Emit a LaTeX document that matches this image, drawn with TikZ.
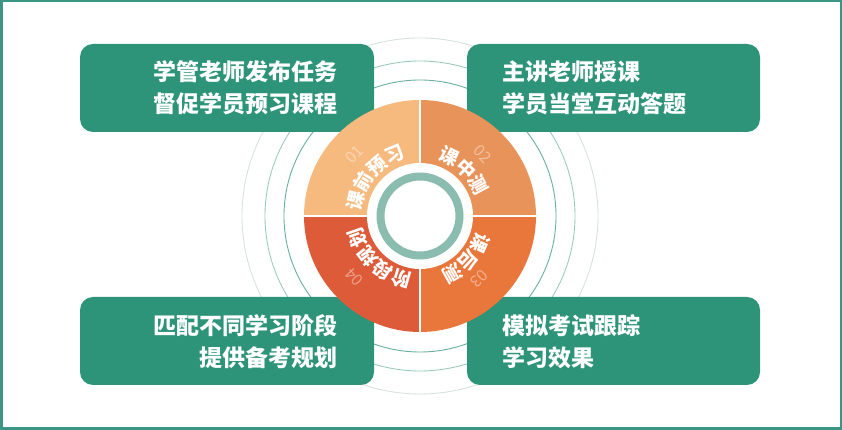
\documentclass[tikz,border=0pt]{standalone}
\usepackage{fontspec}
\setmainfont{Noto Sans CJK SC}
\definecolor{frameC}{HTML}{3A9585}
\definecolor{boxC}{HTML}{2E9479}
\definecolor{qA}{HTML}{F6B97E}
\definecolor{qB}{HTML}{E8935A}
\definecolor{qC}{HTML}{E9773C}
\definecolor{qD}{HTML}{DD5B38}
\definecolor{ringC}{HTML}{8BBCB0}
\definecolor{circA}{HTML}{6AAEA0}
\definecolor{circB}{HTML}{9CCAC0}
\definecolor{circC}{HTML}{D5E3DF}
\tikzset{
  boxtext/.style={text=white,font=\fontsize{23}{32}\selectfont\bfseries,inner sep=0pt},
  qtext/.style={text=white,font=\fontsize{19}{19}\selectfont\bfseries,inner sep=0pt},
  numtext/.style={text=white,opacity=0.4,font=\fontsize{16}{16}\selectfont,inner sep=0pt},
  thinline/.style={line width=0.9pt}
}
\begin{document}
\begin{tikzpicture}[x=1pt,y=1pt]
\useasboundingbox (0,0) rectangle (842,430);
\coordinate (O) at (420,214);
% concentric circles
\draw[thinline,circC] (O) circle (178);
\draw[thinline,circB] (O) circle (155);
\draw[thinline,circA] (O) circle (136);
% boxes
\fill[boxC] (374,298) [rounded corners=13pt] -- (80,298) -- (80,386) -- (374,386) [sharp corners] -- cycle;
\fill[boxC] (467,298) [rounded corners=13pt] -- (760,298) -- (760,386) -- (467,386) [sharp corners] -- cycle;
\fill[boxC] (374,133) [rounded corners=13pt] -- (80,133) -- (80,45) -- (374,45) [sharp corners] -- cycle;
\fill[boxC] (467,133) [rounded corners=13pt] -- (760,133) -- (760,45) -- (467,45) [sharp corners] -- cycle;
% box texts
\node[boxtext,anchor=east,align=right] (t1) at (338,342) {学管老师发布任务\\督促学员预习课程};
\node[boxtext,anchor=west,align=left] (t2) at (502,342) {主讲老师授课\\学员当堂互动答题};
\node[boxtext,anchor=east,align=right] (t4) at (338,88) {匹配不同学习阶段\\提供备考规划};
\node[boxtext,anchor=west,align=left] (t3) at (502,88) {模拟考试跟踪\\学习效果};
% quadrants
\fill[qA] (O) -- ++(180:116) arc (180:90:116) -- cycle;
\fill[qB] (O) -- ++(90:116) arc (90:0:116) -- cycle;
\fill[qC] (O) -- ++(0:116) arc (0:-90:116) -- cycle;
\fill[qD] (O) -- ++(-90:116) arc (-90:-180:116) -- cycle;
\draw[white,line width=2.5pt] ([shift={(180:117)}]O) -- ([shift={(0:117)}]O);
\draw[white,line width=2.5pt] ([shift={(90:117)}]O) -- ([shift={(-90:117)}]O);
\fill[white] (O) circle (53);
\draw[ringC,line width=8pt] (O) circle (39.5);
% numbers
\node[numtext,rotate=47] (n1) at ([shift={(137:90)}]O) {01};
\node[numtext,rotate=-45.5] (n2) at ([shift={(44.5:88)}]O) {02};
\node[numtext,rotate=-136.5] (n3) at ([shift={(-46.5:86)}]O) {03};
\node[numtext,rotate=133] (n4) at ([shift={(223:90)}]O) {04};
% curved texts
\foreach \ch [count=\i from 0] in {课,前,预,习} {
  \pgfmathsetmacro\ang{166.5-\i*18}
  \pgfmathsetmacro\rot{\ang-90}
  \node[qtext,rotate=\rot] (a\i) at ([shift={(\ang:66)}]O) {\ch};
}
\foreach \ch [count=\i from 0] in {课,中,测} {
  \pgfmathsetmacro\ang{64-\i*18}
  \pgfmathsetmacro\rot{\ang-90}
  \node[qtext,rotate=\rot] (b\i) at ([shift={(\ang:66)}]O) {\ch};
}
\foreach \ch [count=\i from 0] in {课,后,测} {
  \pgfmathsetmacro\ang{-24.5-\i*18}
  \pgfmathsetmacro\rot{\ang-90}
  \node[qtext,rotate=\rot] (c\i) at ([shift={(\ang:66)}]O) {\ch};
}
\foreach \ch [count=\i from 0] in {阶,段,规,划} {
  \pgfmathsetmacro\ang{253.5-\i*18}
  \pgfmathsetmacro\rot{\ang-90}
  \node[qtext,rotate=\rot] (d\i) at ([shift={(\ang:66)}]O) {\ch};
}
% frame
\draw[frameC,line width=2.5pt] (1.25,1.25) rectangle (840.75,428.75);
\end{tikzpicture}
\end{document}
